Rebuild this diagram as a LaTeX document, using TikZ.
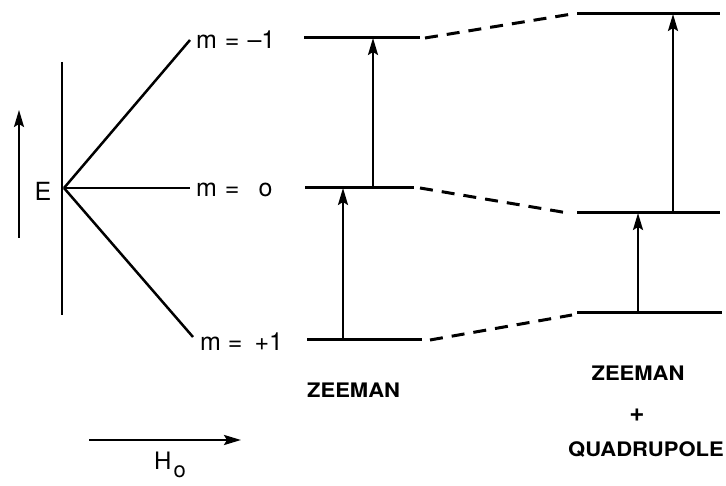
\documentclass[tikz,border=0pt]{standalone}
\usepackage{fontspec}
\setmainfont{TeX Gyre Heros}
\usetikzlibrary{arrows.meta}
\tikzset{
  lvl/.style={line width=3pt},
  fan/.style={line width=2.5pt},
  corr/.style={line width=3pt, dash pattern=on 13pt off 9pt},
  trans/.style={line width=2.2pt, -{Stealth[length=17pt,width=10pt,inset=3pt]}},
  mlab/.style={anchor=west, inner sep=0pt, font=\fontsize{25}{25}\selectfont},
  caption/.style={inner sep=0pt, font=\fontsize{20}{20}\selectfont\bfseries\addfontfeatures{FakeStretch=1.1}}
}
\begin{document}
\begin{tikzpicture}[x=1pt,y=-1pt]
\useasboundingbox (0,0) rectangle (726,486);
% energy axis
\draw[line width=2.3pt] (62,62) -- (62,315);
\coordinate (o) at (64,188);
\coordinate (ea) at (19,238);
\coordinate (eb) at (19,110);
\draw[trans] (ea) -- (eb);
\node[inner sep=0pt, font=\fontsize{25}{25}\selectfont] (E) at (43,191) {E};
% fan
\coordinate (f1) at (190,40);
\coordinate (f0) at (190,188);
\coordinate (f2) at (193,337);
\draw[fan] (o) -- (f1);
\draw[fan] (o) -- (f0);
\draw[fan] (o) -- (f2);
\node[mlab] (m1) at (196,40) {m\hspace{1pt} =\hspace{1pt} –1};
\node[mlab] (m0) at (196,190) {m\hspace{1pt} =\hspace{12pt} o};
\node[mlab] (m2) at (200,342) {m =\hspace{5pt} +1};
% Zeeman levels
\coordinate (za1) at (304,38);  \coordinate (zb1) at (420,38);
\coordinate (za0) at (305,188); \coordinate (zb0) at (414,188);
\coordinate (za2) at (307,340); \coordinate (zb2) at (422,340);
\draw[lvl] (za1) -- (zb1);
\draw[lvl] (za0) -- (zb0);
\draw[lvl] (za2) -- (zb2);
% Zeeman+quadrupole levels
\coordinate (qa1) at (577,14);  \coordinate (qb1) at (720,14);
\coordinate (qa0) at (577,213); \coordinate (qb0) at (720,213);
\coordinate (qa2) at (577,313); \coordinate (qb2) at (722,313);
\draw[lvl] (qa1) -- (qb1);
\draw[lvl] (qa0) -- (qb0);
\draw[lvl] (qa2) -- (qb2);
% dashed correlations
\coordinate (d1s) at (425,38);  \coordinate (d1e) at (572,14);
\coordinate (d0s) at (420,188); \coordinate (d0e) at (568,213);
\coordinate (d2s) at (430,340); \coordinate (d2e) at (572,315);
\draw[corr] (d1s) -- (d1e);
\draw[corr] (d0s) -- (d0e);
\draw[corr] (d2s) -- (d2e);
% transitions
\coordinate (t1a) at (373,188); \coordinate (t1b) at (373,38);
\coordinate (t2a) at (343,340); \coordinate (t2b) at (343,188);
\coordinate (t3a) at (673,213); \coordinate (t3b) at (673,14);
\coordinate (t4a) at (638,313); \coordinate (t4b) at (638,213);
\draw[trans] (t1a) -- (t1b);
\draw[trans] (t2a) -- (t2b);
\draw[trans] (t3a) -- (t3b);
\draw[trans] (t4a) -- (t4b);
% captions
\node[caption, anchor=west] (z) at (307,390) {ZEEMAN};
\node[caption] (zq1) at (638,373) {ZEEMAN};
\node[caption, font=\fontsize{26}{26}\selectfont\bfseries] (zq2) at (637,415) {+};
\node[caption] (zq3) at (646,450) {QUADRUPOLE};
% field arrow
\coordinate (ha) at (89,440);
\coordinate (hb) at (241,440);
\draw[trans, line width=2.5pt] (ha) -- (hb);
\node[inner sep=0pt, anchor=west, font=\fontsize{24}{24}\selectfont] (H) at (154,465) {H\hspace{2pt}\raisebox{-8pt}{\fontsize{22}{22}\selectfont o}};
\end{tikzpicture}
\end{document}
